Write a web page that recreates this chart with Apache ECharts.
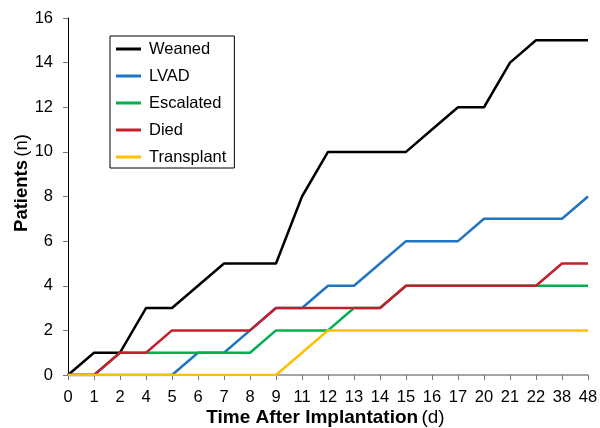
<!DOCTYPE html>
<html><head><meta charset="utf-8">
<script src="https://cdn.jsdelivr.net/npm/echarts@6/dist/echarts.min.js"></script>
<style>html,body{margin:0;padding:0;background:#fff}#c{width:600px;height:428px}</style>
</head><body><div id="c"></div>
<script>
const categories = ['0','1','2','4','5','6','7','8','9','11','12','13','14','15','16','17','20','21','22','38','48'];
const weaned     = [0,1,1,3,3,4,5,5,5,8,10,10,10,10,11,12,12,14,15,15,15];
const lvad       = [0,0,0,0,0,1,1,2,3,3,4,4,5,6,6,6,7,7,7,7,8];
const escalated  = [0,0,1,1,1,1,1,1,2,2,2,3,3,4,4,4,4,4,4,4,4];
const died       = [0,0,1,1,2,2,2,2,3,3,3,3,3,4,4,4,4,4,4,5,5];
const transplant = [0,0,0,0,0,0,0,0,0,1,2,2,2,2,2,2,2,2,2,2,2];
const yTicks = [0,2,4,6,8,10,12,14,16];

const font = '"Liberation Sans", Arial, sans-serif';
const mk = (name, data, color) => ({
  name, type: 'line', data, symbol: 'none', smooth: false,
  lineStyle: { color, width: 2.5 }, itemStyle: { color }
});
const chart = echarts.init(document.getElementById('c'));
chart.setOption({
  animation: false,
  textStyle: { fontFamily: font },
  grid: { left: 68, right: 12, top: 18, bottom: 53, containLabel: false, outerBoundsMode: 'none' },
  legend: {
    orient: 'vertical', left: 110, top: 36,
    icon: 'rect', itemWidth: 25, itemHeight: 3, itemGap: 9,
    padding: [4, 8, 2, 6],
    borderColor: '#000', borderWidth: 1, backgroundColor: '#fff',
    textStyle: { fontFamily: font, fontSize: 16.5, color: '#000', padding: [0,0,0,3], lineHeight: 18 },
    data: ['Weaned','LVAD','Escalated','Died','Transplant']
  },
  xAxis: {
    type: 'category', data: categories, boundaryGap: false,
    name: '{b|Time After Implantation} {n|(d)}', nameLocation: 'middle', nameGap: 33,
    nameMoveOverlap: false,
    nameTextStyle: { padding: [0, 5, 0, 0], rich: {
      b: { fontFamily: font, fontSize: 19, fontWeight: 'bold', color: '#000' },
      n: { fontFamily: font, fontSize: 19, color: '#000' } } },
    axisLine: { lineStyle: { color: '#888', width: 1.5 } },
    axisTick: { show: true, length: 5, lineStyle: { color: '#777' } },
    axisLabel: { fontFamily: font, fontSize: 16.5, color: '#000', margin: 14, interval: 0 },
    splitLine: { show: false }
  },
  yAxis: {
    type: 'value', min: 0, max: 16, interval: 2,
    name: '{b|Patients} {n|(n)}', nameLocation: 'middle', nameGap: 37, nameRotate: 90,
    nameMoveOverlap: false,
    nameTextStyle: { padding: [0, 0, 0, 27], rich: {
      b: { fontFamily: font, fontSize: 18.5, fontWeight: 'bold', color: '#000' },
      n: { fontFamily: font, fontSize: 18.5, color: '#000' } } },
    axisLine: { show: true, lineStyle: { color: '#000', width: 1 } },
    axisTick: { show: true, length: 5, lineStyle: { color: '#777' } },
    axisLabel: { fontFamily: font, fontSize: 16.5, color: '#000', margin: 15,
      formatter: v => yTicks.includes(v) ? String(v) : '' },
    splitLine: { show: false }
  },
  series: [
    mk('Weaned', weaned, '#000000'),
    mk('LVAD', lvad, '#1F74C4'),
    mk('Escalated', escalated, '#00B04C'),
    mk('Died', died, '#C3202B'),
    mk('Transplant', transplant, '#FFC000')
  ]
});
</script></body></html>
